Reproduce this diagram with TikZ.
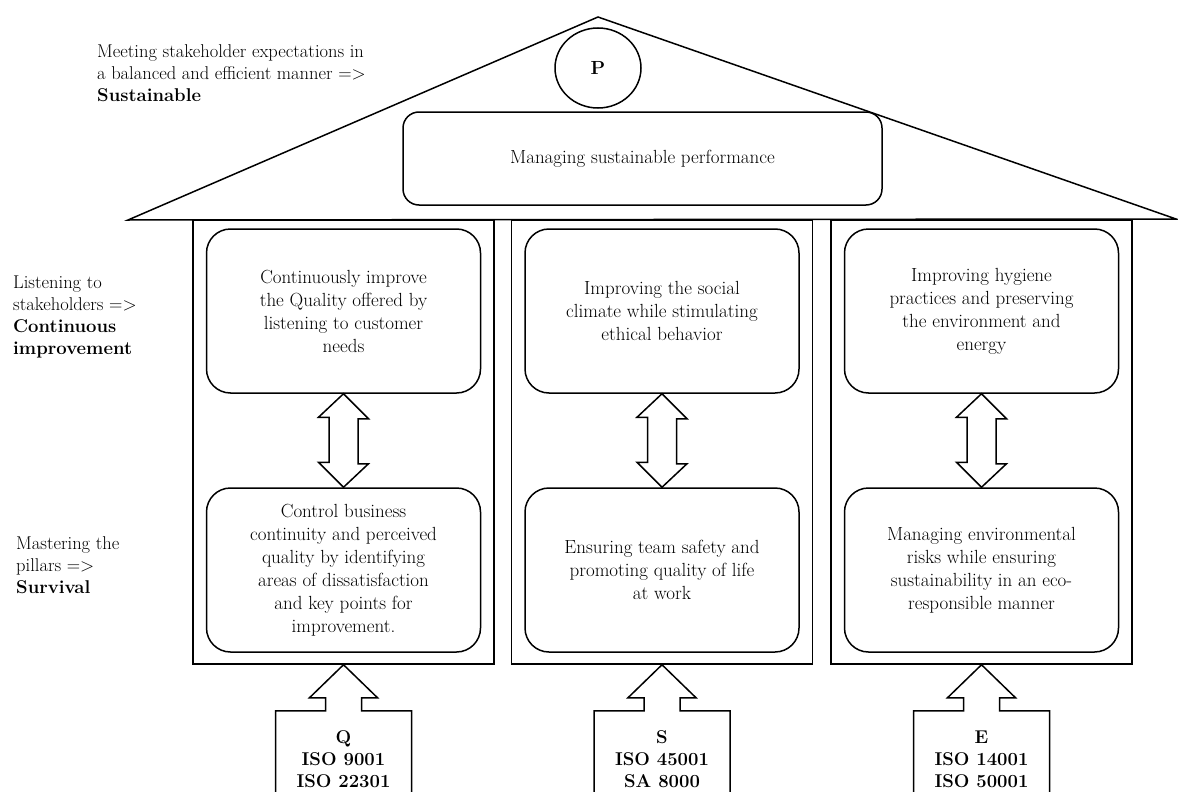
\documentclass[tikz,border=0pt]{standalone}
\usepackage{tikz}
\usetikzlibrary{shapes,arrows}
\usetikzlibrary{calc}
\usetikzlibrary{positioning}

\begin{document}
\begin{tikzpicture}[x=1pt,y=-1pt,
    pillar_node/.style={draw,line width=1.5pt,minimum width=301pt,minimum height=444pt,inner sep=0pt},
    goal_node/.style={draw,line width=1.5pt,rounded corners=24pt,minimum width=274pt,minimum height=164pt,inner sep=0pt,align=center,font=\fontsize{19}{23}\selectfont},
    side_node/.style={inner sep=0pt,align=left,font=\fontsize{18.5}{22}\selectfont},
    norm_node/.style={inner sep=0pt,align=center,font=\fontsize{18.5}{22}\selectfont\bfseries},
    thick_line/.style={draw,line width=1.5pt,line join=miter}]
    \useasboundingbox (0,0) rectangle (1178,792);

    % roof
    \coordinate (rl) at (128,220);
    \coordinate (rt) at (598,17);
    \coordinate (rr) at (1176,219);
    \draw[thick_line] (rl) -- (rt) -- (rr) -- cycle;
    \node[ellipse,draw,line width=1.5pt,minimum width=86pt,minimum height=80pt,inner sep=0pt,font=\fontsize{19}{23}\selectfont\bfseries] (P) at (598,68) {P};
    \node[draw,line width=1.5pt,rounded corners=16pt,minimum width=479pt,minimum height=93pt,font=\fontsize{19}{23}\selectfont] (perf) at (642.5,158.5) {Managing sustainable performance};
    \node[side_node,anchor=north west] (s0) at (97,44) {Meeting stakeholder expectations in\\a balanced and efficient manner =>\\\textbf{Sustainable}};

    % pillars
    \node[pillar_node] (p1) at (343.5,442) {};
    \node[pillar_node] (p2) at (662,442) {};
    \node[pillar_node] (p3) at (981.5,442) {};

    \node[goal_node] (t1) at (343.5,311) {Continuously improve\\the Quality offered by\\listening to customer\\needs};
    \node[goal_node] (t2) at (662,311) {Improving the social\\climate while stimulating\\ethical behavior};
    \node[goal_node] (t3) at (981.5,311) {Improving hygiene\\practices and preserving\\the environment and\\energy};
    \node[goal_node] (b1) at (343.5,570) {Control business\\continuity and perceived\\quality by identifying\\areas of dissatisfaction\\and key points for\\improvement.};
    \node[goal_node] (b2) at (662,570) {Ensuring team safety and\\promoting quality of life\\at work};
    \node[goal_node] (b3) at (981.5,570) {Managing environmental\\risks while ensuring\\sustainability in an eco-\\responsible manner};

    \node[side_node,anchor=north west] (s1) at (13,276) {Listening to\\stakeholders =>\\\textbf{Continuous}\\\textbf{improvement}};
    \node[side_node,anchor=north west] (s2) at (16,536) {Mastering the\\pillars =>\\\textbf{Survival}};

    % double arrows
    \draw[thick_line] (t1.south) -- ++(25,25) -- ++(-10.5,0) -- ++(0,45) -- ++(10.5,0) -- (b1.north) -- ++(-25,-25) -- ++(10.5,0) -- ++(0,-45) -- ++(-10.5,0) -- cycle;
    \draw[thick_line] (t2.south) -- ++(25,25) -- ++(-10.5,0) -- ++(0,45) -- ++(10.5,0) -- (b2.north) -- ++(-25,-25) -- ++(10.5,0) -- ++(0,-45) -- ++(-10.5,0) -- cycle;
    \draw[thick_line] (t3.south) -- ++(25,25) -- ++(-10.5,0) -- ++(0,45) -- ++(10.5,0) -- (b3.north) -- ++(-25,-25) -- ++(10.5,0) -- ++(0,-45) -- ++(-10.5,0) -- cycle;

    % standards
    \node[norm_node] (n1) at (343.5,759) {Q\\ISO 9001\\ISO 22301};
    \node[norm_node] (n2) at (662,759) {S\\ISO 45001\\SA 8000};
    \node[norm_node] (n3) at (981.5,759) {E\\ISO 14001\\ISO 50001};
    \draw[thick_line] ($(p1.south)+(-68,130)$) -- ++(0,-84) -- ++(50,0) -- ++(0,-13) -- ++(-16,0) -- (p1.south) -- ++(34,33) -- ++(-16,0) -- ++(0,13) -- ++(50,0) -- ++(0,84);
    \draw[thick_line] ($(p2.south)+(-68,130)$) -- ++(0,-84) -- ++(50,0) -- ++(0,-13) -- ++(-16,0) -- (p2.south) -- ++(34,33) -- ++(-16,0) -- ++(0,13) -- ++(50,0) -- ++(0,84);
    \draw[thick_line] ($(p3.south)+(-68,130)$) -- ++(0,-84) -- ++(50,0) -- ++(0,-13) -- ++(-16,0) -- (p3.south) -- ++(34,33) -- ++(-16,0) -- ++(0,13) -- ++(50,0) -- ++(0,84);
\end{tikzpicture}
\end{document}
